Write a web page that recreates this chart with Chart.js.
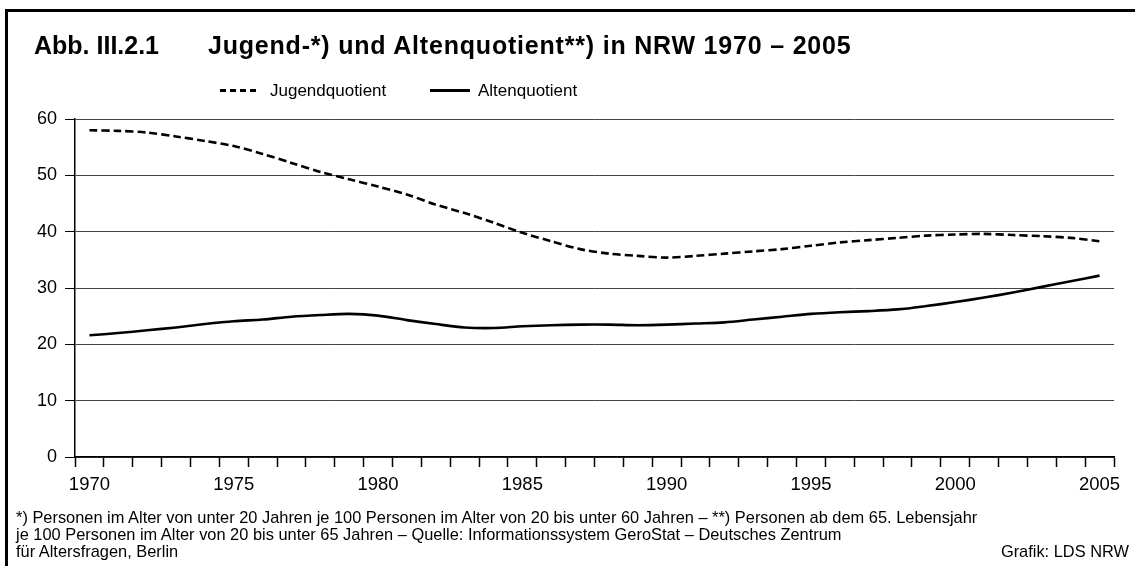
<!DOCTYPE html>
<html>
<head>
<meta charset="utf-8">
<script src="https://cdn.jsdelivr.net/npm/chart.js@4.4.1/dist/chart.umd.min.js"></script>
<style>
  body { margin: 0; background: #fff; font-family: "Liberation Sans", Arial, sans-serif; }
  #wrap { position: relative; width: 1135px; height: 566px; overflow: hidden; }
  #frame { position: absolute; left: 5px; top: 9px; width: 1200px; height: 700px;
           border-left: 3px solid #000; border-top: 3px solid #000; }
  canvas { position: absolute; left: 0; top: 0; }
  .t { position: absolute; white-space: nowrap; color: #000; }
  .title { font-size: 25px; font-weight: bold; line-height: 25px; top: 33px; }
  .leg { font-size: 17px; line-height: 17px; top: 82px; }
  .sample { position: absolute; height: 3px; top: 89px; }
  .note { font-size: 16.4px; line-height: 17px; }
</style>
</head>
<body>
<div id="wrap">
  <div id="frame"></div>
  <canvas id="chart" width="1135" height="566"></canvas>

  <div class="t title" style="left:34px">Abb. III.2.1</div>
  <div class="t title" style="left:208px;letter-spacing:0.8px">Jugend-*) und Altenquotient**) in NRW 1970 – 2005</div>

  <div class="sample" style="left:220px;width:40px;background:repeating-linear-gradient(to right,#000 0 6px,transparent 6px 10px)"></div>
  <div class="t leg" style="left:270px">Jugendquotient</div>
  <div class="sample" style="left:430px;width:40px;background:#000"></div>
  <div class="t leg" style="left:478px">Altenquotient</div>

  <div class="t note" style="left:16px;top:509px">*) Personen im Alter von unter 20 Jahren je 100 Personen im Alter von 20 bis unter 60 Jahren – **) Personen ab dem 65. Lebensjahr<br>je 100 Personen im Alter von 20 bis unter 65 Jahren – Quelle: Informationssystem GeroStat – Deutsches Zentrum<br>für Altersfragen, Berlin</div>
  <div class="t note" style="right:6px;top:543px">Grafik: LDS NRW</div>
</div>

<script>
// Jahre (Kategorien)
const years = [1970, 1971, 1972, 1973, 1974, 1975, 1976, 1977, 1978, 1979,
               1980, 1981, 1982, 1983, 1984, 1985, 1986, 1987, 1988, 1989,
               1990, 1991, 1992, 1993, 1994, 1995, 1996, 1997, 1998, 1999,
               2000, 2001, 2002, 2003, 2004, 2005];
// nur diese Jahre bekommen eine Beschriftung
const labeledYears = [1970, 1975, 1980, 1985, 1990, 1995, 2000, 2005];

const jugendquotient = [58.0, 57.9, 57.6, 56.9, 56.1, 55.2, 53.8, 52.2, 50.6, 49.3,
                        48.0, 46.6, 44.8, 43.3, 41.6, 39.8, 38.3, 36.9, 36.1, 35.7,
                        35.4, 35.7, 36.1, 36.5, 36.9, 37.5, 38.1, 38.5, 38.9, 39.3,
                        39.5, 39.6, 39.4, 39.2, 38.9, 38.3];

const altenquotient = [21.6, 22.0, 22.5, 23.0, 23.6, 24.1, 24.4, 24.9, 25.2, 25.4,
                       25.1, 24.3, 23.6, 23.0, 22.9, 23.2, 23.4, 23.5, 23.5, 23.4,
                       23.5, 23.7, 23.9, 24.4, 24.9, 25.4, 25.7, 25.9, 26.2, 26.8,
                       27.5, 28.3, 29.2, 30.2, 31.2, 32.2];

const fontFam = '"Liberation Sans", Arial, sans-serif';

ctx = document.getElementById('chart');

new Chart(ctx, {
  type: 'line',
  data: {
    labels: years,
    datasets: [
      {
        label: 'Jugendquotient',
        data: jugendquotient,
        borderColor: '#000',
        borderWidth: 2.6,
        borderDash: [8, 4],
        pointRadius: 0,
        tension: 0.3,
        fill: false
      },
      {
        label: 'Altenquotient',
        data: altenquotient,
        borderColor: '#000',
        borderWidth: 2.6,
        pointRadius: 0,
        tension: 0.3,
        fill: false
      }
    ]
  },
  options: {
    responsive: false,
    animation: false,
    layout: { padding: { left: 0, right: 21, top: 119, bottom: 69 } },
    plugins: {
      legend: { display: false },
      tooltip: { enabled: false }
    },
    scales: {
      x: {
        offset: true,
        grid: { offset: true, drawOnChartArea: false, drawTicks: true,
                tickLength: 10, tickColor: '#000', tickWidth: 1.5 },
        border: { color: '#000', width: 1.5 },
        ticks: {
          autoSkip: false, maxRotation: 0, minRotation: 0, padding: 7,
          color: '#000', font: { family: fontFam, size: 18.5 },
          callback: function(v, i) {
            return labeledYears.includes(years[i]) ? String(years[i]) : '';
          }
        },
        afterFit: function(s) { s.height = 40; }
      },
      y: {
        min: 0,
        max: 60,
        ticks: { stepSize: 10, padding: 8, color: '#000', font: { family: fontFam, size: 18 } },
        grid: { color: '#444', lineWidth: 1, tickLength: 10, tickColor: '#000' },
        border: { color: '#000', width: 1.5 },
        afterFit: function(s) { s.width = 75; }
      }
    }
  }
});
</script>
</body>
</html>
